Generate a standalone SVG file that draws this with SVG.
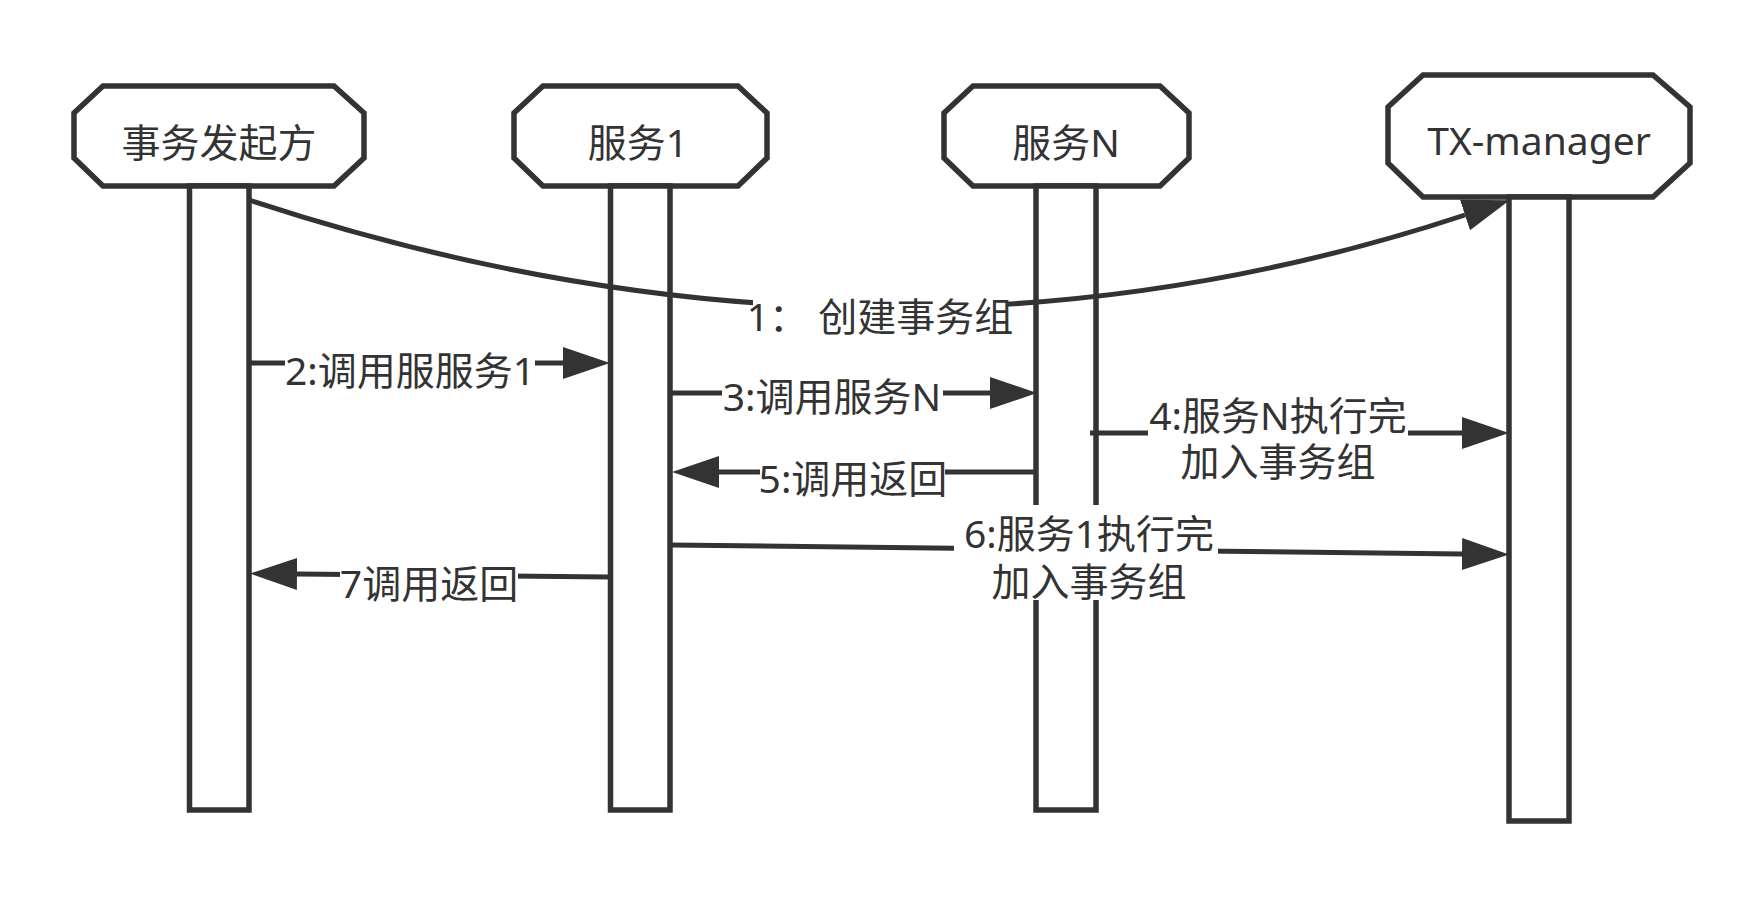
<svg xmlns="http://www.w3.org/2000/svg" width="1764" height="897" viewBox="0 0 1764 897">
<style>
.shape{fill:#ffffff;stroke:#333333;stroke-width:5.5;stroke-linejoin:miter}
.edge{fill:none;stroke:#333333;stroke-width:5}
.lbl{font-family:"Noto Sans","Noto Sans CJK SC",sans-serif;font-size:39px;fill:#333333;text-anchor:middle}
.bg{fill:#ffffff;stroke:none}
</style>
<defs>
<marker id="arrow" markerUnits="userSpaceOnUse" markerWidth="48" markerHeight="34" viewBox="0 0 48 34" refX="0" refY="17" orient="auto">
<path d="M0,1 L47,17 L0,33 Z" fill="#333333"/>
</marker>
</defs>
<rect x="0" y="0" width="1764" height="897" fill="#ffffff"/>
<g id="node-initiator">
<polygon class="shape" points="103,86 334,86 364,113 364,158 334,186 103,186 74,158 74,113"/>
<rect class="shape" x="189.5" y="186" width="59.5" height="624"/>
<text class="lbl" x="219" y="157">事务发起方</text>
</g>
<g id="node-service1">
<polygon class="shape" points="543,86 738,86 767,113 767,158 738,186 543,186 514,158 514,113"/>
<rect class="shape" x="610.5" y="186" width="59.5" height="624"/>
<text class="lbl" x="638" y="157">服务1</text>
</g>
<g id="node-serviceN">
<polygon class="shape" points="973,86 1160,86 1189,113 1189,158 1160,186 973,186 944,158 944,113"/>
<rect class="shape" x="1036" y="186" width="60" height="624"/>
<text class="lbl" x="1066" y="157">服务N</text>
</g>
<g id="node-txmanager">
<polygon class="shape" points="1423,75 1653,75 1690,107 1690,163 1653,197 1423,197 1388,163 1388,107"/>
<rect class="shape" x="1509" y="197" width="60" height="624"/>
<text class="lbl" x="1539" y="155">TX-manager</text>
</g>
<g id="connectors">
<path class="edge" d="M249,200 Q880,408 1465,215" marker-end="url(#arrow)"/>
<rect class="bg" x="753" y="300" width="255" height="38"/>
<text class="lbl" x="880" y="331">1： 创建事务组</text>

<path class="edge" d="M249,363 L563,363" marker-end="url(#arrow)"/>
<rect class="bg" x="285" y="349" width="250" height="40"/>
<text class="lbl" x="410" y="385">2:调用服服务1</text>

<path class="edge" d="M670,393 L990,393" marker-end="url(#arrow)"/>
<rect class="bg" x="722" y="379" width="221" height="36"/>
<text class="lbl" x="832" y="411">3:调用服务N</text>

<path class="edge" d="M1090,433 L1462,433" marker-end="url(#arrow)"/>
<rect class="bg" x="1148" y="398" width="260" height="82"/>
<text class="lbl" x="1278" y="430">4:服务N执行完<tspan x="1278" dy="46">加入事务组</tspan></text>

<path class="edge" d="M1036,472 L719,472" marker-end="url(#arrow)"/>
<rect class="bg" x="760" y="458" width="185" height="38"/>
<text class="lbl" x="853" y="493">5:调用返回</text>

<path class="edge" d="M670,545 L1462,554" marker-end="url(#arrow)"/>
<rect class="bg" x="954" y="505" width="264" height="95"/>
<text class="lbl" x="1089" y="548">6:服务1执行完<tspan x="1089" dy="48">加入事务组</tspan></text>

<path class="edge" d="M609,577 L297,574" marker-end="url(#arrow)"/>
<rect class="bg" x="340" y="561" width="178" height="40"/>
<text class="lbl" x="429" y="598">7调用返回</text>
</g>
</svg>
